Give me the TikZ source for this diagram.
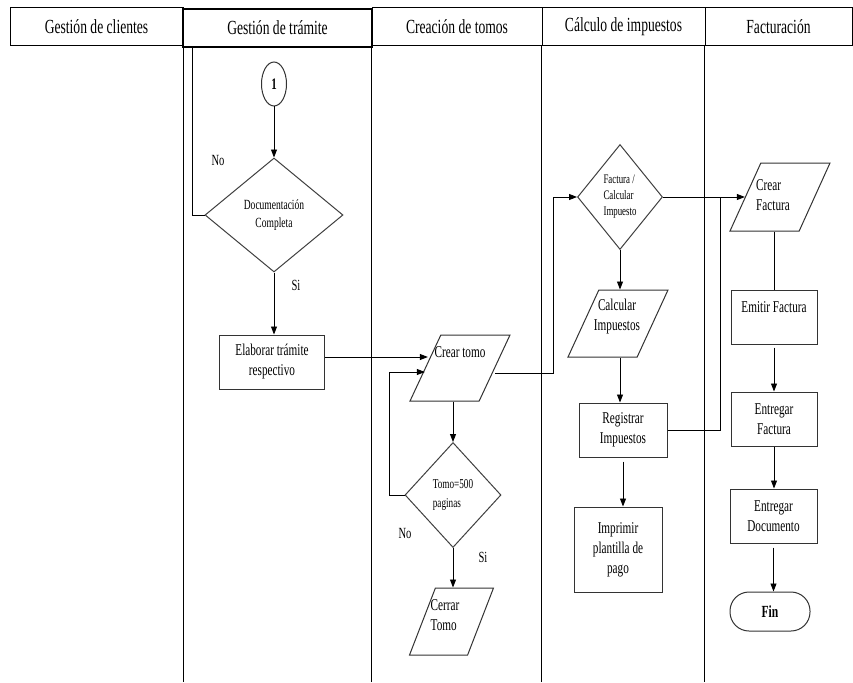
\documentclass[tikz,border=0pt]{standalone}
\usepackage{fontspec}
\setmainfont{Liberation Serif}[FakeStretch=0.68]
\usetikzlibrary{shapes.geometric,arrows.meta,calc}
\begin{document}
\begin{tikzpicture}[x=1pt,y=-1pt,
  hdr/.style={draw=black,line width=1pt,rectangle,minimum width=#1,minimum height=38pt,inner sep=0pt,font=\fontsize{20}{22}\selectfont},
  lane/.style={line width=0.8pt,draw=black},
  box/.style={draw=black!80,line width=1pt,rectangle,inner sep=1pt,align=center,font=\fontsize{16.5}{20}\selectfont},
  dia/.style={draw=black!75,line width=1pt,diamond,inner sep=0pt,align=center},
  para/.style={draw=black!80,line width=1pt,trapezium,trapezium left angle=75,trapezium right angle=105,trapezium stretches=true,inner sep=3pt},
  txt/.style={inner sep=0pt,align=center,font=\fontsize{16.5}{20}\selectfont},
  lbl/.style={inner sep=0pt,font=\fontsize{15.5}{17}\selectfont},
  arr/.style={line width=0.9pt,draw=black,-{Triangle[length=8pt,width=6pt]}},
  ln/.style={line width=0.9pt,draw=black}
]
\useasboundingbox (0,0) rectangle (853,682);
\fill[white] (0,0) rectangle (853,682);

% headers
\node[hdr=173pt] (h1) at (96.5,27) {Gestión de clientes};
\node[hdr=189pt,line width=1.6pt] (h2) at (277.5,28) {Gestión de trámite};
\node[hdr=170pt] (h3) at (457,27) {Creación de tomos};
\node[hdr=163pt] (h4) at (623.5,27) {Cálculo de impuestos};
\node[hdr=147pt] (h5) at (778.5,27) {Facturación};
\coordinate (bot) at (0,682);
\draw[lane] (h1.south east) -- (h1.south east |- bot);
\draw[lane] (h3.south west) -- (h3.south west |- bot);
\draw[lane] (h4.south west) -- (h4.south west |- bot);
\draw[lane] (h5.south west) -- (h5.south west |- bot);

% Gestion de tramite
\node[draw=black!80,line width=1pt,ellipse,minimum width=25pt,minimum height=44pt,inner sep=0pt,font=\bfseries\fontsize{16}{18}\selectfont] (c1) at (274,84) {1};
\node[dia,minimum width=138pt,minimum height=114pt,font=\fontsize{14}{18}\selectfont] (d1) at (274,215) {Documentación\\Completa};
\node[box,minimum width=105pt,minimum height=54pt] (b1) at (272,362) {Elaborar trámite\\respectivo};
\node[lbl] (n1) at (218,160) {No};
\node[lbl] (s1) at (296,285) {Si};

% Creacion de tomos
\node[para,minimum width=100pt,minimum height=66pt] (p1) at (460,368) {\strut};
\node[txt] (t1) at (460,352) {Crear tomo};
\node[dia,minimum width=96pt,minimum height=105pt,font=\fontsize{13.5}{19}\selectfont,align=left] (d2) at (453,495) {Tomo=500\\paginas};
\node[para,minimum width=84pt,minimum height=67pt] (p2) at (451.5,621.5) {\strut};
\node[txt,align=left] (t2) at (445,615) {Cerrar\\Tomo};
\node[lbl] (n2) at (405,533) {No};
\node[lbl] (s2) at (483,557) {Si};

% Calculo de impuestos
\node[dia,minimum width=85pt,minimum height=105pt,font=\fontsize{13}{16}\selectfont,align=left] (d3) at (620,197) {Factura /\\Calcular\\Impuesto};
\node[para,minimum width=100pt,minimum height=67pt] (p3) at (618,323.5) {\strut};
\node[txt] (t3) at (617,317) {Calcular\\Impuestos};
\node[box,minimum width=88pt,minimum height=54pt] (b2) at (623,430) {Registrar\\Impuestos};
\node[box,minimum width=88pt,minimum height=85pt] (b3) at (618,549.5) {Imprimir\\plantilla de\\pago};

% Facturacion
\node[para,minimum width=100pt,minimum height=68pt] (p4) at (780,197) {\strut};
\node[txt,align=left] (t4) at (773,195) {Crear\\Factura};
\node[box,minimum width=86pt,minimum height=54pt] (b4) at (774,317) {Emitir Factura\\~};
\node[box,minimum width=86pt,minimum height=54pt] (b5) at (774,419) {Entregar\\Factura};
\node[box,minimum width=87pt,minimum height=54pt] (b6) at (773.5,516) {Entregar\\Documento};
\node[box,minimum width=80pt,minimum height=39pt,rounded corners=19pt,font=\bfseries\fontsize{17}{19}\selectfont] (f1) at (770,611.5) {Fin};

% connectors
\draw[arr] (c1.south) -- (d1.north);
\draw[ln] (d1.west) -| ([xshift=10pt]h2.south west);
\draw[arr] (d1.south) -- (d1.south |- b1.north);
\draw[arr,shorten >=-3pt] ([yshift=5pt]b1.east) -- ([yshift=5pt]b1.east -| p1.left side);
\draw[arr] (p1.bottom side -| d2.north) -- (d2.north);
\draw[arr] (d2.west) -- ++(-15,0) |- ([yshift=-4pt]p1.left side);
\draw[arr] (d2.south) -- (d2.south |- p2.top side);
\draw[arr] ([yshift=-5pt]p1.right side) -| ([xshift=-24pt]d3.west) -- (d3.west);
\draw[arr] (d3.east) -- (d3.east -| p4.left side);
\draw[arr] (d3.south) -- (d3.south |- p3.top side);
\draw[arr] (d3.south |- p3.bottom side) -- (d3.south |- b2.north);
\draw[arr,shorten <=4pt] (b2.south) -- (b2.south |- b3.north);
\draw[ln] (b2.east) -| ([xshift=-24pt]p4.left side);
\draw[ln] (b4.north |- p4.bottom side) -- (b4.north);
\draw[arr,shorten <=3pt] (b4.south) -- (b5.north);
\draw[arr] (b5.south) -- (b5.south |- b6.north);
\draw[arr,shorten <=4pt] (b6.south) -- (b6.south |- f1.north);
\end{tikzpicture}
\end{document}
